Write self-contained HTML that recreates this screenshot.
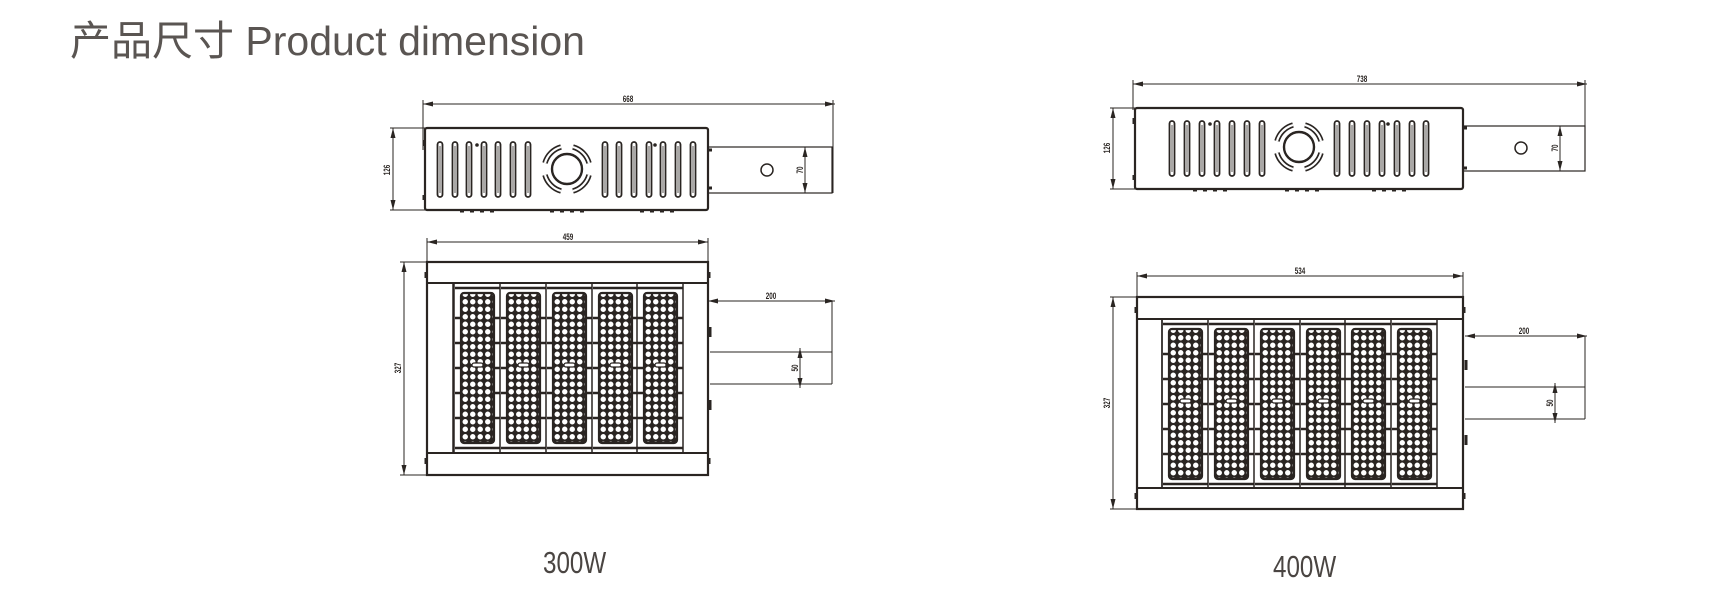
<!DOCTYPE html>
<html><head><meta charset="utf-8"><style>
html,body{margin:0;padding:0;background:#fff;width:1720px;height:601px;overflow:hidden}
svg{position:absolute;left:0;top:0}
.t{font-family:"Liberation Sans","Noto Sans CJK SC",sans-serif}
</style></head><body>
<svg width="1720" height="601" viewBox="0 0 1720 601" xmlns="http://www.w3.org/2000/svg">
<defs>
<pattern id="dots" width="7.5" height="7.5" patternUnits="userSpaceOnUse">
<rect width="7.5" height="7.5" fill="#2a2522"/><circle cx="3.75" cy="3.75" r="2.7" fill="#fff"/>
</pattern>
<marker id="ar" markerWidth="10" markerHeight="6" refX="10" refY="3" orient="auto-start-reverse" markerUnits="userSpaceOnUse">
<path d="M0,0.5 L10,3 L0,5.5z" fill="#2a2522"/></marker>
<g id="vent"><rect x="-2.5" y="0" width="5" height="55" rx="2.5" fill="none" stroke="#2a2522" stroke-width="1.8"/><line x1="0" y1="4" x2="0" y2="51" stroke="#2a2522" stroke-width="0.8"/></g>
<g id="fan" fill="none" stroke="#2a2522" stroke-width="1.6">
<circle r="15" stroke-width="2.4"/>
<path d="M-22,-6 A23,23 0 0 1 -6,-22 M6,-22 A23,23 0 0 1 22,-6 M22,6 A23,23 0 0 1 6,22 M-6,22 A23,23 0 0 1 -22,6" stroke-width="5.5"/>
<path d="M-22,-6 A23,23 0 0 1 -6,-22 M6,-22 A23,23 0 0 1 22,-6 M22,6 A23,23 0 0 1 6,22 M-6,22 A23,23 0 0 1 -22,6" stroke="#fff" stroke-width="2.2"/>
</g>
<g id="mod1" stroke="#2a2522" fill="none">
<line x1="0" y1="0" x2="0" y2="170" stroke-width="1.5"/>
<rect x="7" y="10" width="33" height="150" rx="3" fill="url(#dots)" stroke-width="2.2"/>
<g stroke-width="2.5"><line x1="1" y1="35" x2="7" y2="35"/><line x1="40" y1="35" x2="46" y2="35"/><line x1="1" y1="60" x2="7" y2="60"/><line x1="40" y1="60" x2="46" y2="60"/><line x1="1" y1="85" x2="7" y2="85"/><line x1="40" y1="85" x2="46" y2="85"/><line x1="1" y1="110" x2="7" y2="110"/><line x1="40" y1="110" x2="46" y2="110"/><line x1="1" y1="135" x2="7" y2="135"/><line x1="40" y1="135" x2="46" y2="135"/><line x1="1" y1="5" x2="46" y2="5"/><line x1="1" y1="165" x2="46" y2="165"/></g>
<rect x="18" y="80" width="11" height="4" rx="2" fill="#fff" stroke-width="1.2"/>
</g>
</defs>

<text class="t" x="70" y="55" font-size="41" fill="#5a5552">产品尺寸 Product dimension</text>

<g stroke="#2a2522" fill="none" stroke-width="1">
<line x1="423" y1="104" x2="835" y2="104" marker-start="url(#ar)" marker-end="url(#ar)"/>
<line x1="423" y1="100" x2="423" y2="150"/><line x1="833" y1="100" x2="833" y2="193"/>
<line x1="393" y1="128" x2="393" y2="210" marker-start="url(#ar)" marker-end="url(#ar)"/>
<line x1="390" y1="128" x2="425" y2="128"/><line x1="390" y1="210" x2="425" y2="210"/>
<rect x="425" y="128" width="283" height="82" rx="2" stroke-width="2.2"/>
<rect x="708" y="147" width="124" height="46" stroke-width="1.2"/>
<circle cx="767" cy="170" r="6" stroke-width="1.5"/>
<line x1="805" y1="147" x2="805" y2="193" marker-start="url(#ar)" marker-end="url(#ar)"/>
<g stroke-width="3"><line x1="708" y1="150" x2="712" y2="150"/><line x1="708" y1="188" x2="712" y2="188"/><line x1="424" y1="140" x2="424" y2="146"/><line x1="424" y1="195" x2="424" y2="200"/></g>
<g stroke-width="3"><line x1="460" y1="211" x2="500" y2="211" stroke-dasharray="4 6"/><line x1="550" y1="211" x2="590" y2="211" stroke-dasharray="4 6"/><line x1="640" y1="211" x2="675" y2="211" stroke-dasharray="4 6"/></g>
</g>
<g transform="translate(0,142)"><use href="#vent" x="440"/><use href="#vent" x="455"/><use href="#vent" x="469"/><use href="#vent" x="484"/><use href="#vent" x="498"/><use href="#vent" x="513"/><use href="#vent" x="528"/><use href="#vent" x="605"/><use href="#vent" x="619"/><use href="#vent" x="634"/><use href="#vent" x="649"/><use href="#vent" x="663"/><use href="#vent" x="678"/><use href="#vent" x="693"/></g>
<circle cx="477" cy="145" r="1.8" fill="#2a2522"/><circle cx="655" cy="145" r="1.8" fill="#2a2522"/>
<use href="#fan" x="567" y="169"/>
<g class="t" fill="#2a2522" font-size="9" font-weight="bold">
<text transform="translate(628 102) scale(0.7 1)" text-anchor="middle">668</text>
<text transform="translate(390 170) rotate(-90) scale(0.7 1)" text-anchor="middle">126</text>
<text transform="translate(803 170) rotate(-90) scale(0.7 1)" text-anchor="middle">70</text>
</g>

<g stroke="#2a2522" fill="none" stroke-width="1">
<line x1="427" y1="242" x2="708" y2="242" marker-start="url(#ar)" marker-end="url(#ar)"/>
<line x1="427" y1="238" x2="427" y2="262"/><line x1="708" y1="238" x2="708" y2="262"/>
<line x1="404" y1="262" x2="404" y2="475" marker-start="url(#ar)" marker-end="url(#ar)"/>
<line x1="400" y1="262" x2="427" y2="262"/><line x1="400" y1="475" x2="427" y2="475"/>
<rect x="427" y="262" width="281" height="213" stroke-width="2.2"/>
<line x1="427" y1="283" x2="708" y2="283" stroke-width="2"/><line x1="427" y1="453" x2="708" y2="453" stroke-width="2"/>
<line x1="453" y1="283" x2="453" y2="453" stroke-width="1.5"/><line x1="683" y1="283" x2="683" y2="453" stroke-width="1.5"/>
<line x1="708" y1="301" x2="835" y2="301" marker-start="url(#ar)" marker-end="url(#ar)"/>
<line x1="832" y1="301" x2="832" y2="384"/>
<line x1="710" y1="352" x2="832" y2="352"/><line x1="710" y1="384" x2="832" y2="384"/>
<line x1="800" y1="348" x2="800" y2="388" marker-start="url(#ar)" marker-end="url(#ar)"/>
<g stroke-width="3"><line x1="710" y1="327" x2="710" y2="337"/><line x1="710" y1="400" x2="710" y2="410"/><line x1="426" y1="272" x2="426" y2="278"/><line x1="426" y1="458" x2="426" y2="464"/><line x1="709" y1="272" x2="709" y2="278"/><line x1="709" y1="458" x2="709" y2="464"/></g>
</g>
<g transform="translate(0,283)"><use href="#mod1" x="454"/><use href="#mod1" x="500"/><use href="#mod1" x="546"/><use href="#mod1" x="592"/><use href="#mod1" x="637"/></g>
<g class="t" fill="#2a2522" font-size="9" font-weight="bold">
<text transform="translate(568 240) scale(0.7 1)" text-anchor="middle">459</text>
<text transform="translate(771 299) scale(0.7 1)" text-anchor="middle">200</text>
<text transform="translate(401 368) rotate(-90) scale(0.7 1)" text-anchor="middle">327</text>
<text transform="translate(798 368) rotate(-90) scale(0.7 1)" text-anchor="middle">50</text>
</g>

<g stroke="#2a2522" fill="none" stroke-width="1">
<line x1="1133" y1="84" x2="1587" y2="84" marker-start="url(#ar)" marker-end="url(#ar)"/>
<line x1="1133" y1="80" x2="1133" y2="110"/><line x1="1585" y1="80" x2="1585" y2="171"/>
<line x1="1113" y1="108" x2="1113" y2="189" marker-start="url(#ar)" marker-end="url(#ar)"/>
<line x1="1110" y1="108" x2="1135" y2="108"/><line x1="1110" y1="189" x2="1135" y2="189"/>
<rect x="1135" y="108" width="328" height="81" rx="2" stroke-width="2.2"/>
<rect x="1463" y="126" width="122" height="45" stroke-width="1.2"/>
<circle cx="1521" cy="148" r="6" stroke-width="1.5"/>
<line x1="1560" y1="126" x2="1560" y2="171" marker-start="url(#ar)" marker-end="url(#ar)"/>
<g stroke-width="3"><line x1="1463" y1="128" x2="1467" y2="128"/><line x1="1463" y1="168" x2="1467" y2="168"/><line x1="1134" y1="118" x2="1134" y2="124"/><line x1="1134" y1="175" x2="1134" y2="180"/></g>
<g stroke-width="3"><line x1="1193" y1="190" x2="1230" y2="190" stroke-dasharray="4 6"/><line x1="1285" y1="190" x2="1320" y2="190" stroke-dasharray="4 6"/><line x1="1372" y1="190" x2="1410" y2="190" stroke-dasharray="4 6"/></g>
</g>
<g transform="translate(0,121)"><use href="#vent" x="1172"/><use href="#vent" x="1187"/><use href="#vent" x="1202"/><use href="#vent" x="1217"/><use href="#vent" x="1232"/><use href="#vent" x="1247"/><use href="#vent" x="1262"/><use href="#vent" x="1337"/><use href="#vent" x="1352"/><use href="#vent" x="1367"/><use href="#vent" x="1382"/><use href="#vent" x="1397"/><use href="#vent" x="1412"/><use href="#vent" x="1426"/></g>
<circle cx="1210" cy="124" r="1.8" fill="#2a2522"/><circle cx="1388" cy="124" r="1.8" fill="#2a2522"/>
<use href="#fan" x="1299" y="147"/>
<g class="t" fill="#2a2522" font-size="9" font-weight="bold">
<text transform="translate(1362 82) scale(0.7 1)" text-anchor="middle">738</text>
<text transform="translate(1110 148) rotate(-90) scale(0.7 1)" text-anchor="middle">126</text>
<text transform="translate(1558 148) rotate(-90) scale(0.7 1)" text-anchor="middle">70</text>
</g>

<g stroke="#2a2522" fill="none" stroke-width="1">
<line x1="1137" y1="276" x2="1463" y2="276" marker-start="url(#ar)" marker-end="url(#ar)"/>
<line x1="1137" y1="272" x2="1137" y2="297"/><line x1="1463" y1="272" x2="1463" y2="297"/>
<line x1="1113" y1="297" x2="1113" y2="509" marker-start="url(#ar)" marker-end="url(#ar)"/>
<line x1="1110" y1="297" x2="1137" y2="297"/><line x1="1110" y1="509" x2="1137" y2="509"/>
<rect x="1137" y="297" width="326" height="212" stroke-width="2.2"/>
<line x1="1137" y1="319" x2="1463" y2="319" stroke-width="2"/><line x1="1137" y1="488" x2="1463" y2="488" stroke-width="2"/>
<line x1="1162" y1="319" x2="1162" y2="488" stroke-width="1.5"/><line x1="1437" y1="319" x2="1437" y2="488" stroke-width="1.5"/>
<line x1="1465" y1="336" x2="1587" y2="336" marker-start="url(#ar)" marker-end="url(#ar)"/>
<line x1="1585" y1="336" x2="1585" y2="419"/>
<line x1="1465" y1="387" x2="1585" y2="387"/><line x1="1465" y1="419" x2="1585" y2="419"/>
<line x1="1555" y1="383" x2="1555" y2="423" marker-start="url(#ar)" marker-end="url(#ar)"/>
<g stroke-width="3"><line x1="1466" y1="360" x2="1466" y2="370"/><line x1="1466" y1="435" x2="1466" y2="445"/><line x1="1136" y1="307" x2="1136" y2="313"/><line x1="1136" y1="493" x2="1136" y2="499"/><line x1="1464" y1="307" x2="1464" y2="313"/><line x1="1464" y1="493" x2="1464" y2="499"/></g>
</g>
<g transform="translate(0,319)"><use href="#mod1" x="1162"/><use href="#mod1" x="1208"/><use href="#mod1" x="1254"/><use href="#mod1" x="1300"/><use href="#mod1" x="1345"/><use href="#mod1" x="1391"/></g>
<g class="t" fill="#2a2522" font-size="9" font-weight="bold">
<text transform="translate(1300 274) scale(0.7 1)" text-anchor="middle">534</text>
<text transform="translate(1524 334) scale(0.7 1)" text-anchor="middle">200</text>
<text transform="translate(1110 403) rotate(-90) scale(0.7 1)" text-anchor="middle">327</text>
<text transform="translate(1553 403) rotate(-90) scale(0.7 1)" text-anchor="middle">50</text>
</g>

<text class="t" transform="translate(543 573) scale(0.78 1)" font-size="31" fill="#4a4542">300W</text>
<text class="t" transform="translate(1273 577) scale(0.78 1)" font-size="31" fill="#4a4542">400W</text>
</svg>
</body></html>
